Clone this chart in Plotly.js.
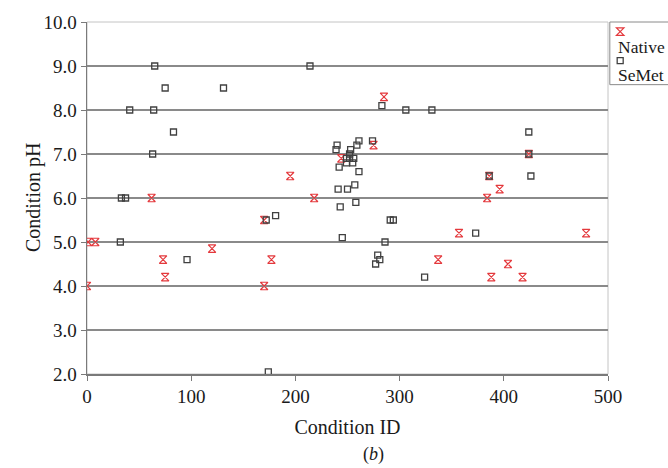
<!DOCTYPE html>
<html>
<head>
<meta charset="utf-8">
<script src="https://cdn.plot.ly/plotly-3.0.1.min.js"></script>
<style>html,body{margin:0;padding:0;background:#fff;}#chart{width:668px;height:468px;}</style>
</head>
<body>
<div id="chart"></div>
<script>
// Native crystallisation conditions (Condition ID, pH)
var nativeX = [0, 1, 8, 62, 73, 75, 120, 170, 170, 177, 195, 218, 244, 275, 285, 337, 357, 384, 386, 396, 404, 388, 418, 424, 479];
var nativeY = [4.0, 5.0, 5.0, 6.0, 4.6, 4.2, 4.85, 5.5, 4.0, 4.6, 6.5, 6.0, 6.9, 7.2, 8.3, 4.6, 5.2, 6.0, 6.5, 6.2, 4.5, 4.2, 4.2, 7.0, 5.2];

// SeMet crystallisation conditions (Condition ID, pH)
var semetX = [33, 37, 32, 41, 64, 65, 63, 75, 83, 96, 131, 172, 181, 174, 214,
              240, 239, 261, 259, 253, 274, 252, 249, 252, 256, 249, 255, 242, 261,
              241, 250, 257, 243, 258, 245, 291, 294, 286, 279, 281, 277, 324,
              283, 306, 331, 373, 386, 424, 424, 426];
var semetY = [6.0, 6.0, 5.0, 8.0, 8.0, 9.0, 7.0, 8.5, 7.5, 4.6, 8.5, 5.5, 5.6, 2.05, 9.0,
              7.2, 7.1, 7.3, 7.2, 7.1, 7.3, 7.0, 6.9, 6.9, 6.9, 6.8, 6.8, 6.7, 6.6,
              6.2, 6.2, 6.3, 5.8, 5.9, 5.1, 5.5, 5.5, 5.0, 4.7, 4.6, 4.5, 4.2,
              8.1, 8.0, 8.0, 5.2, 6.5, 7.5, 7.0, 6.5];

var seriesNames = ["Native", "SeMet"];
var xTitle = "Condition ID";
var yTitle = "Condition pH";
var panelLabel = "(<i>b</i>)";

var serif = "Liberation Serif, Times New Roman, serif";

var traces = [
  {
    x: nativeX, y: nativeY, type: "scatter", mode: "markers", name: " ",
    marker: {symbol: "hourglass-open", size: 7.5, color: "#e4383c", line: {color: "#e4383c", width: 1.2}},
    showlegend: true
  },
  {
    x: semetX, y: semetY, type: "scatter", mode: "markers", name: " ",
    marker: {symbol: "square-open", size: 6, color: "#404040", line: {color: "#404040", width: 1.3}},
    showlegend: true
  }
];

var layout = {
  width: 668, height: 468,
  margin: {l: 87, r: 60, t: 22, b: 94},
  paper_bgcolor: "#fff", plot_bgcolor: "#fff",
  font: {family: serif, color: "#1a1a1a", size: 19},
  showlegend: true,
  legend: {
    x: 0.985, xanchor: "left", y: 1.028, yanchor: "top",
    bgcolor: "rgba(0,0,0,0)", borderwidth: 0,
    font: {family: serif, size: 20}, tracegroupgap: 0, itemwidth: 30
  },
  xaxis: {
    range: [0, 500], dtick: 100, tick0: 0,
    showgrid: false, zeroline: false,
    showline: true, linecolor: "#7a7a7a", linewidth: 1.5,
    ticks: "outside", ticklen: 5, tickcolor: "#7a7a7a", tickwidth: 1,
    tickfont: {family: serif, size: 19, color: "#1a1a1a"},
    title: {text: xTitle, font: {family: serif, size: 20, color: "#1a1a1a"}, standoff: 13}
  },
  yaxis: {
    range: [2, 10], dtick: 1, tick0: 2, tickformat: ".1f",
    showgrid: true, gridcolor: "#8a8a8a", gridwidth: 1.6, zeroline: false,
    showline: true, linecolor: "#7a7a7a", linewidth: 1.5,
    ticks: "outside", ticklen: 5, tickcolor: "#7a7a7a", tickwidth: 1,
    tickfont: {family: serif, size: 19, color: "#1a1a1a"}
  },
  shapes: [
    {type: "rect", xref: "paper", yref: "paper", x0: 0, x1: 1, y0: 0, y1: 1,
     line: {color: "#c4c4c4", width: 1}, layer: "below"},
    {type: "rect", xref: "paper", yref: "paper", x0: 1.0035, x1: 1.125, y0: 0.822, y1: 1.0,
     line: {color: "#8a8a8a", width: 1}, fillcolor: "rgba(0,0,0,0)"}
  ],
  annotations: [
    {text: yTitle, xref: "paper", yref: "paper", x: -0.1036, y: 0.5, textangle: -90,
     showarrow: false, xanchor: "center", yanchor: "middle",
     font: {family: serif, size: 20, color: "#1a1a1a"}},
    {text: panelLabel, xref: "paper", yref: "paper", x: 0.549, y: -0.228,
     showarrow: false, xanchor: "center", yanchor: "middle",
     font: {family: serif, size: 18, color: "#1a1a1a"}},
    {text: seriesNames[0], xref: "paper", yref: "paper", x: 1.0155, y: 0.929,
     showarrow: false, xanchor: "left", yanchor: "middle",
     font: {family: serif, size: 17.5, color: "#1a1a1a"}},
    {text: seriesNames[1], xref: "paper", yref: "paper", x: 1.0155, y: 0.849,
     showarrow: false, xanchor: "left", yanchor: "middle",
     font: {family: serif, size: 17.5, color: "#1a1a1a"}}
  ]
};

Plotly.newPlot("chart", traces, layout, {displayModeBar: false, staticPlot: true});
</script>
</body>
</html>
